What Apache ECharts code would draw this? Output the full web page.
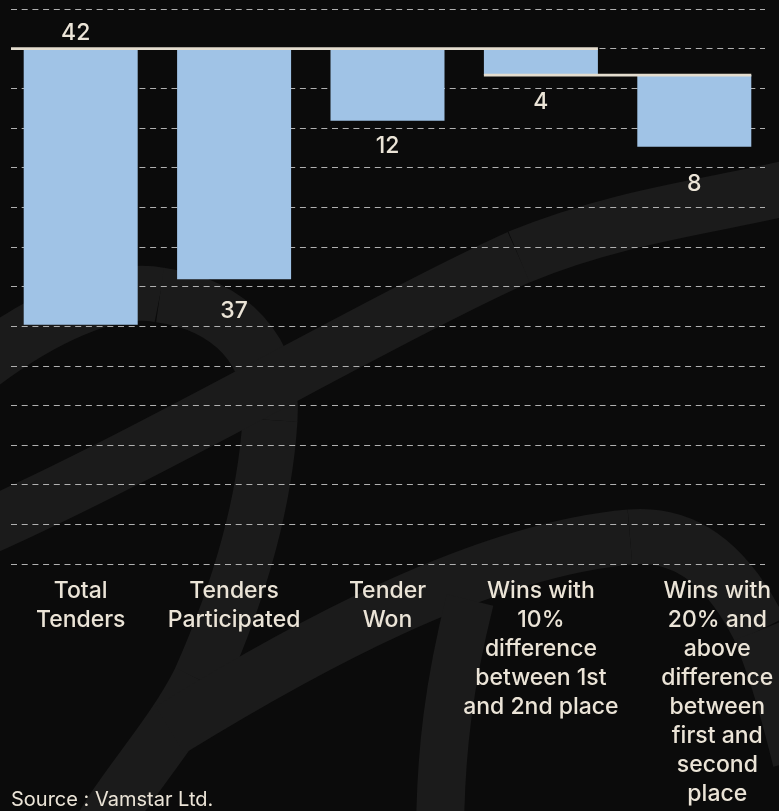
<!DOCTYPE html>
<html>
<head>
<meta charset="utf-8">
<script src="https://cdn.jsdelivr.net/npm/echarts@6/dist/echarts.min.js"></script>
<style>
html,body{margin:0;padding:0;background:#0b0b0b;}
#chart{width:779px;height:811px;}
</style>
</head>
<body>
<div id="chart"></div>
<script>
// ---------- data ----------
const categories = [
  'Total\nTenders',
  'Tenders\nParticipated',
  'Tender\nWon',
  'Wins with\n10%\ndifference\nbetween 1st\nand 2nd place',
  'Wins with\n20% and\nabove\ndifference\nbetween\nfirst and\nsecond\nplace'
];
const barStart  = [0, 0, 0, 0, 4];            // where each hanging bar begins
const barLength = [41.8, 34.9, 10.9, 4, 10.85]; // bar lengths as drawn
const valueLabels = ['42', '37', '12', '4', '8'];
const axisMin = -6, axisMax = 78, axisStep = 6;
const sourceNote = 'Source : Vamstar Ltd.';

// ---------- style ----------
const FONT = 'Inter';
const TEXT = '#ebe4d7';
const BAR = '#a0c3e6';
const CREAM = '#e4ddcf';
const BG = '#0b0b0b';
const SWIRL = '#1b1b1b';
const gridBars = {left: 4, right: 8, top: 9, bottom: 247};
const gridLines = {left: 11, right: 14, top: 9, bottom: 247};
const barWidth = 114;
const labelPos  = ['top', 'bottom', 'bottom', 'bottom', 'bottom'];
const labelDist = [4.5, 20, 13.6, 16, 26.3];
const labelShift = [[-5, 0], [0, 0], [0, 0], [0, 0], [0, 0]];
const lastLabelShift = 46;

// background swirl (decoration), cubic segments: [x1,y1,c1x,c1y,c2x,c2y,x2,y2]
const swirlStrokes = [
  {w: 55, segs: [
    [-20,365, 40,320, 110,285, 160,295],
    [160,295, 230,305, 275,350, 270,420],
    [270,420, 265,500, 240,590, 200,680],
    [200,680, 170,740, 120,790, 95,840]]},
  {w: 55, segs: [
    [-20,530, 150,455, 380,320, 519,257],
    [519,257, 620,215, 720,205, 800,185]]},
  {w: 55, segs: [
    [170,730, 300,650, 480,550, 630,537],
    [630,537, 690,532, 730,570, 760,630],
    [760,630, 780,680, 790,720, 800,760]]},
  {w: 48, segs: [
    [470,600, 450,680, 440,750, 440,840]]}
];

const W = 779;
const catW = (W - gridBars.left - gridBars.right) / categories.length;
const hw = (barWidth / 2) / catW;
const lineStartX = -0.5 + (gridLines.left - gridBars.left) / catW;

const chart = echarts.init(document.getElementById('chart'), null, {renderer: 'canvas'});

const xData = categories.map((c, i) => i === categories.length - 1
  ? {value: c, textStyle: {padding: [0, 0, 0, lastLabelShift]}}
  : c);

const graphics = [];
swirlStrokes.forEach(s => s.segs.forEach(g => graphics.push({
  type: 'bezierCurve', silent: true, z: -10,
  shape: {x1: g[0], y1: g[1], cpx1: g[2], cpy1: g[3], cpx2: g[4], cpy2: g[5], x2: g[6], y2: g[7]},
  style: {fill: null, stroke: SWIRL, lineWidth: s.w, lineCap: 'butt'}
})));

const option = {
  backgroundColor: BG,
  animation: false,
  textStyle: {fontFamily: FONT},
  title: {
    text: sourceNote, left: 11, top: 790, padding: 0,
    textStyle: {color: TEXT, fontSize: 20, fontWeight: 'normal', fontFamily: FONT}
  },
  graphic: graphics,
  grid: [
    Object.assign({containLabel: false}, gridBars),
    Object.assign({containLabel: false}, gridLines)
  ],
  xAxis: [
    {type: 'category', gridIndex: 0, data: xData, position: 'bottom',
      axisLine: {show: false, onZero: false}, axisTick: {show: false},
      axisLabel: {interval: 0, color: TEXT, fontSize: 23, fontWeight: 500, lineHeight: 29, margin: 13, fontFamily: FONT}},
    {type: 'value', gridIndex: 0, min: -0.5, max: categories.length - 0.5, show: false},
    {type: 'category', gridIndex: 1, data: categories, show: false}
  ],
  yAxis: [
    {type: 'value', gridIndex: 0, inverse: true, min: axisMin, max: axisMax, interval: axisStep, show: false},
    {type: 'value', gridIndex: 1, inverse: true, min: axisMin, max: axisMax, interval: axisStep,
      axisLine: {show: false}, axisTick: {show: false}, axisLabel: {show: false},
      splitLine: {show: true, lineStyle: {color: '#b0b0b0', width: 1, type: [6, 4.7]}}}
  ],
  series: [
    {type: 'line', xAxisIndex: 2, yAxisIndex: 1, data: [], silent: true},
    {type: 'bar', xAxisIndex: 0, yAxisIndex: 0, stack: 'w', barWidth: barWidth,
      itemStyle: {color: 'transparent'}, silent: true, data: barStart},
    {type: 'bar', xAxisIndex: 0, yAxisIndex: 0, stack: 'w', barWidth: barWidth,
      itemStyle: {color: BAR}, z: 3,
      data: barLength.map((v, i) => ({
        value: v,
        label: {show: true, position: labelPos[i], distance: labelDist[i], offset: labelShift[i],
          formatter: () => valueLabels[i], color: TEXT, fontSize: 23, fontWeight: 500, fontFamily: FONT}
      }))},
    {type: 'line', xAxisIndex: 1, yAxisIndex: 0, symbol: 'none', z: 5, silent: true,
      lineStyle: {color: CREAM, width: 2.7},
      data: [[lineStartX, barStart[0]], [3 + hw, barStart[3]]]},
    {type: 'line', xAxisIndex: 1, yAxisIndex: 0, symbol: 'none', z: 5, silent: true,
      lineStyle: {color: CREAM, width: 2.7},
      data: [[3 - hw, barStart[3] + barLength[3]], [4 + hw, barStart[4]]]}
  ]
};
chart.setOption(option);
</script>
</body>
</html>
